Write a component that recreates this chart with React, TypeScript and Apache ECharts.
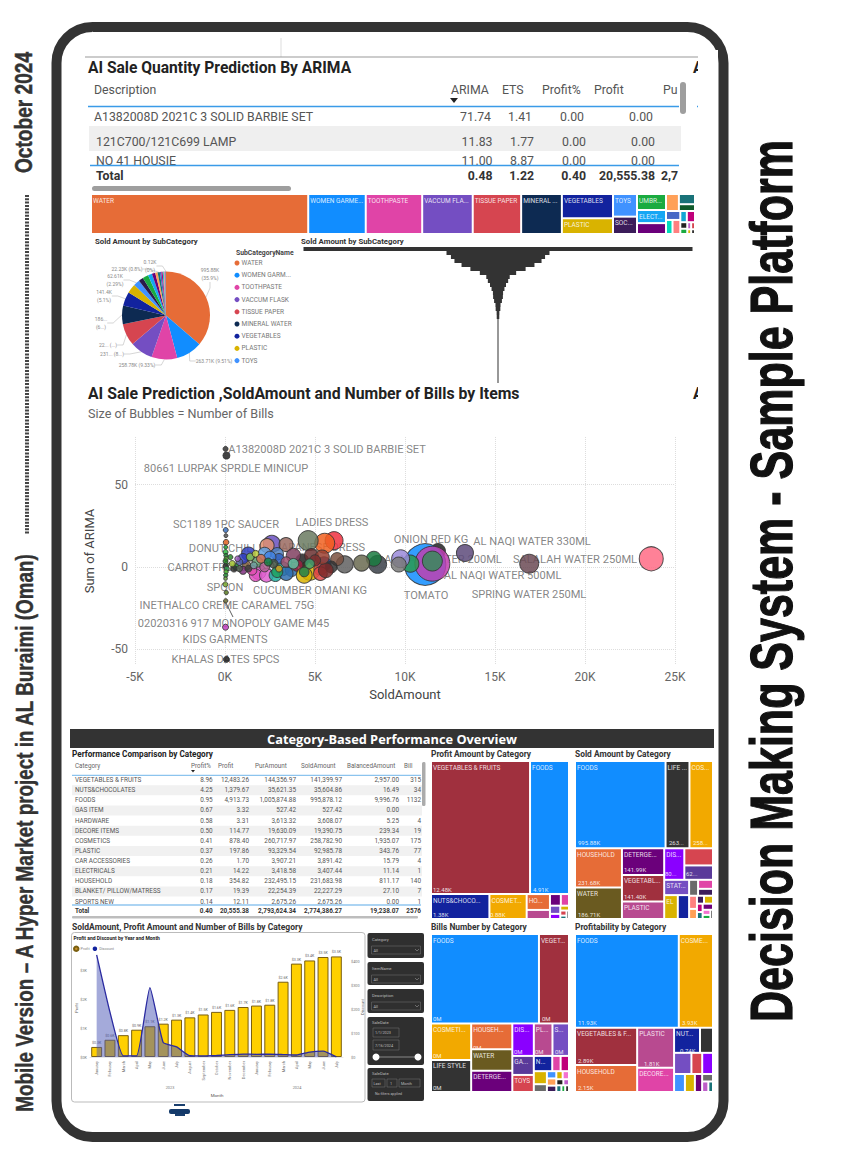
import React, { useEffect, useRef } from "react";
import * as echarts from "echarts";

// ---------- palette names ----------
const BLUE = "#118DFF", NAVY = "#12239E", ORANGE = "#E66C37", DPURPLE = "#6B007B", PINK = "#E044A7",
  VIOLET = "#744EC2", YELLOW = "#D9B300", RED = "#D64550", MAROON = "#A0303E", AMBER = "#F2A900",
  CHAR = "#333333", OLIVE = "#6A5A20", MAGENTA = "#B84A90", BRIGHT = "#8A00FF", GRAY = "#6A6A6A";

// ---------- top table ----------
const arimaHeaders = ["Description", "ARIMA", "ETS", "Profit%", "Profit", "Pu"];
const arimaRows = [
  ["A1382008D 2021C 3 SOLID BARBIE SET", "71.74", "1.41", "0.00", "0.00"],
  ["121C700/121C699 LAMP", "11.83", "1.77", "0.00", "0.00"],
  ["NO 41 HOUSIE", "11.00", "8.87", "0.00", "0.00"],
];
const arimaTotal = ["Total", "0.48", "1.22", "0.40", "20,555.38", "2,7"];

// ---------- sub category ----------
const subMain = [
  leaf("WATER", 995.88, ORANGE), leaf("WOMEN GARME...", 263.71, BLUE), leaf("TOOTHPASTE", 258.78, PINK),
  leaf("VACCUM FLASK", 231.68, VIOLET), leaf("TISSUE PAPER", 222, RED), leaf("MINERAL ...", 186.7, "#0D2A52"),
  group(leaf("VEGETABLES", 141.4, NAVY), leaf("PLASTIC", 92.98, YELLOW)),
];
const subToys = [leaf("TOYS", 62.61, "#4092FF"), leaf("SOCKS", 48, "#3B1C5A")];
const subUmbrella = [leaf("UMBR...", 58, "#1AAB40")];
const subElect = [leaf("ELECT...", 41, "#15A6F4"), leaf("NUTS...", 34, DPURPLE)];
const subRest = [
  group(leaf("", 24, "#FFA058"), leaf("", 18, "#197278"), leaf("", 12, "#0F5A2A")),
  group(leaf("", 14, "#4668C5"), leaf("", 10, "#00DBBC"), leaf("", 12, "#FF8080")),
  group(leaf("", 8, "#15A6D4"), leaf("", 10, "#C0007B"), leaf("", 5, "#222222"), leaf("", 4, "#1AAB40"), leaf("", 3, "#BE5DC9"), leaf("", 3, "#D64550"), leaf("", 2, "#D9B300"), leaf("", 2, "#333333")),
];

const pieNames = ["WATER", "WOMEN GARM...", "TOOTHPASTE", "VACCUM FLASK", "TISSUE PAPER", "MINERAL WATER", "VEGETABLES", "PLASTIC", "TOYS"];
const pieValues = [995.88, 263.71, 258.78, 231.68, 222, 186.7, 141.4, 92.98, 62.61, 48, 58, 41, 34, 24, 22.23, 16, 13, 10, 8, 6, 5, 4, 0.12];
const pieColors = [ORANGE, BLUE, PINK, VIOLET, RED, "#0D2A52", NAVY, YELLOW, "#4092FF", "#2A1C4A", "#1AAB40", "#15A6F4", DPURPLE, "#FFA058", "#197278", "#4668C5", "#C0007B", "#00DBBC", "#FF8080", "#BE5DC9", "#777777", "#4A6A8A", "#AAAAAA"];
const pieLabels = ["995.88K\n(35.9%)", "263.71K (9.51%)", "258.78K (9.33%)", "231... (8...)", "22... (...)", "186...\n(6...)", "141.4K\n(5.1%)", "", "62.61K\n(2.29%)", "", "", "", "", "", "22.23K (0.8%)", "", "", "", "", "", "", "", "0.12K\n(0%)"];
const pieLabelAnchors: ([number, number] | null)[] = [[210, 274], [214, 361], [137, 365], [112, 354], [108, 345], [101, 323], [104, 296], null, [115, 280], null, null, null, null, null, [127, 269], null, null, null, null, null, null, null, [150, 266]];

const funnelValues = [995.88, 263.71, 241, 223, 186.7, 141.4, 92.98, 60, 52, 41, 33, 26, 25, 20, 13, 12, 7, 6.5, 2, 1.8, 1.6, 1.4, 1.2, 1.1, 1, 0.9, 0.8, 0.7, 0.6, 0.5, 0.4, 0.3, 0.2, 0.12];

// ---------- bubbles: sold amount, ARIMA, number of bills ----------
const bubbleValues = [
  [23680, 5, 369], [16900, 2, 231], [13330, 8.5, 185], [11830, 9.7, 144], [11120, 1.5, 1100], [11520, 2, 780], [11520, 3.6, 256], [10300, 2, 185], [9755, 5, 207], [9650, 1.5, 144],
  [8480, 1.6, 207], [8270, 5, 144], [7590, 2.4, 164], [6650, 1.6, 185], [6230, 4.8, 108], [6060, 16, 207], [5540, 14.4, 256], [4620, 16, 256], [2600, 14, 185], [2340, 13, 125],
  [3390, 13.6, 125], [4720, -2, 256], [5500, 2, 125], [4290, 4, 108], [1866, -3, 144], [3190, -1, 125], [3700, -2, 100], [5300, -1, 110], [5900, 0, 90], [4000, 1, 90],
  [1700, -5, 100], [2300, -5, 120], [2800, -5, 100], [3400, -4, 120], [4400, -5, 160], [5300, -4, 120], [5600, -2, 140],
  [1300, 8, 120], [2200, 8, 110], [2900, 8, 100], [3800, 7, 130], [4800, 7, 120], [5400, 6, 130],
  [5000, 4, 80], [3000, 5, 70], [2500, 6, 90], [1800, 3, 70], [2200, 0, 60], [3400, 3, 70], [2900, -3, 80], [1500, -2, 60], [1200, 1, 50], [1000, 5, 70],
  [800, 3, 30], [1400, 6, 40], [1700, 8, 30], [2000, 5, 50], [2700, 2, 50], [3800, 2, 70], [4400, -3, 60], [4700, 2, 60], [3000, -1, 30], [2400, 3, 40],
  [1000, -2, 40], [600, 0, 25], [500, -1, 30], [400, 2, 25], [800, -1, 25], [1300, -1, 30], [1600, 1, 30], [700, 5, 20], [300, 6, 16],
  [40, 22.4, 16], [50, 19, 10], [60, 15, 20], [40, 12, 10], [30, 9, 16], [50, 7, 12], [60, 5, 12], [30, 3.5, 16], [70, 2, 10], [40, 0.5, 20], [100, -1, 16], [60, -3, 12], [40, -5, 12], [30, -7, 8], [20, -10.5, 16], [70, -15.5, 12], [40, -20.5, 12], [30, -36.5, 23], [80, -56, 23], [30, 71.6, 16], [80, 67.6, 31],
];
const bubbleColors = [
  "#FF6B85", "#6B4A55", "#5D4A7A", "#222222", "#118DFF", "#C040B0", "#3A8A5A", "#2A9A50", "#9A8AD8", "#7A7A7A",
  "#3A4048", "#1A7A40", "#6A6A50", "#606060", "#7A5040", "#F03040", "#F06020", "#6A7A60", "#6A50C0", "#E09070",
  "#9A6A60", "#D9B300", "#1A3AA0", "#222222", "#E060D0", "#20B0A0", "#2F6EB0", "#E04848", "#333333", "#9A2040",
  "#E050C0", "#E060D0", "#20B0A0", "#2F6EB0", "#D9B300", "#E04848", "#7A2A2A",
  "#3040C0", "#60A0E0", "#5080C0", "#804060", "#6A3030", "#9A4030",
  "#7A3030", "#3060C0", "#4080E0", "#60A070", "#B06090", "#A05070", "#20A060", "#E050B0", "#806040", "#3040C0",
  "#5060A0", "#80C050", "#C0D040", "#D07050", "#405040", "#60C0A0", "#208050", "#40A070", "#D0A020", "#1A8040",
  "#803080", "#20A040", "#303030", "#A0C030", "#506050", "#404040", "#70A0A0", "#A060C0", "#2A8A2A",
  "#3A70C0", "#555555", "#E06020", "#20A030", "#30C040", "#208030", "#60B030", "#1A8A1A", "#30C040", "#333333", "#30A050", "#50C030", "#208A30", "#70B040", "#7AAA30", "#5A7A20", "#6A6A30", "#C040C0", "#222222", "#333333", "#222222",
];
// label anchors, given in sold amount / ARIMA units
const bubbleLabels: [string, number, number][] = [
  ["A1382008D 2021C 3 SOLID BARBIE SET", 5667, 71.5], ["80661 LURPAK SPRDLE MINICUP", 56, 60], ["SC1189 1PC SAUCER", 56, 25.5], ["LADIES DRESS", 5944, 26.7],
  ["DONUT CHILLI", 0, 11], ["JAPANESE DRESS", 5278, 12], ["CARROT FROZEN 400G", 0, 0], ["SPOON", 0, -12.7], ["CUCUMBER OMANI KG", 4722, -14.2],
  ["INETHALCO CREME CARAMEL 75G", 111, -23.3], ["02020316 917 MONOPOLY GAME M45", 472, -34.2], ["KIDS GARMENTS", 0, -44], ["KHALAS DATES 5PCS", 28, -55.8],
  ["ONION RED KG", 11444, 16.4], ["AL NAQI WATER 330ML", 17056, 15.5], ["AL NAQI WATER 200ML", 12111, 4.6], ["SALALAH WATER 250ML", 19444, 4.6],
  ["AL NAQI WATER 500ML", 15422, -5], ["TOMATO", 11167, -17], ["SPRING WATER 250ML", 16889, -16.7],
];

// ---------- category table ----------
const catHeaders = ["Category", "Profit%", "Profit", "PurAmount", "SoldAmount", "BalancedAmount", "Bill"];
const catRows = [
  ["VEGETABLES & FRUITS", "8.96", "12,483.26", "144,356.97", "141,399.97", "2,957.00", "315"],
  ["NUTS&CHOCOLATES", "4.25", "1,379.67", "35,621.35", "35,604.86", "16.49", "34"],
  ["FOODS", "0.95", "4,913.73", "1,005,874.88", "995,878.12", "9,996.76", "1132"],
  ["GAS ITEM", "0.67", "3.32", "527.42", "527.42", "0.00", ""],
  ["HARDWARE", "0.58", "3.31", "3,613.32", "3,608.07", "5.25", "4"],
  ["DECORE ITEMS", "0.50", "114.77", "19,630.09", "19,390.75", "239.34", "19"],
  ["COSMETICS", "0.41", "878.40", "260,717.97", "258,782.90", "1,935.07", "175"],
  ["PLASTIC", "0.37", "197.86", "93,329.54", "92,985.78", "343.76", "77"],
  ["CAR ACCESSORIES", "0.26", "1.70", "3,907.21", "3,891.42", "15.79", "4"],
  ["ELECTRICALS", "0.21", "14.22", "3,418.58", "3,407.44", "11.14", "1"],
  ["HOUSEHOLD", "0.18", "354.82", "232,495.15", "231,683.98", "811.17", "140"],
  ["BLANKET/ PILLOW/MATRESS", "0.17", "19.39", "22,254.39", "22,227.29", "27.10", "7"],
  ["SPORTS NEW", "0.14", "12.11", "2,675.26", "2,675.26", "0.00", "1"],
];
const catTotal = ["Total", "0.40", "20,555.38", "2,793,624.34", "2,774,386.27", "19,238.07", "2576"];

// ---------- category treemaps (values in K, or bills) ----------
const profitTop = [leaf("VEGETABLES & FRUITS", 12.48, MAROON), leaf("FOODS", 4.91, BLUE)];
const profitBottom = [
  leaf("NUTS&CHOCO...", 1.38, NAVY), leaf("COSMET...", 0.88, AMBER),
  group(leaf("HO...", 0.35, ORANGE), leaf("", 0.2, MAGENTA)),
  group(leaf("", 0.12, DPURPLE), leaf("", 0.09, PINK), leaf("", 0.08, VIOLET), leaf("", 0.05, BRIGHT), leaf("", 0.04, YELLOW), leaf("", 0.03, RED), leaf("", 0.02, "#197278"), leaf("", 0.02, CHAR)),
];
const soldTop = [leaf("FOODS", 995.88, BLUE), leaf("LIFE ...", 263, CHAR), leaf("COS...", 258.78, AMBER)];
const soldBottom = [
  group(leaf("HOUSEHOLD", 231.68, ORANGE), leaf("WATER", 186.71, OLIVE)),
  group(leaf("DETERGE...", 141.99, DPURPLE), leaf("VEGETABL...", 141.4, MAROON), leaf("PLASTIC", 92.98, MAGENTA)),
  group(
    group(leaf("DIS...", 80, BRIGHT), leaf("", 62, RED), leaf("", 52, "#5A3A9A")),
    group(
      group(leaf("STAT...", 48, VIOLET), leaf("ELEC...", 41, YELLOW), leaf("", 34, NAVY)),
      group(group(leaf("", 18, GRAY), leaf("", 17, PINK), leaf("", 13, "#3B1C5A")),
        group(leaf("", 13, "#FF8080"), leaf("", 10, "#FFA058"), leaf("", 7, "#3B1C5A"), leaf("", 9, YELLOW), leaf("", 6, "#C0007B"), leaf("", 5, "#197278"), leaf("", 8, DPURPLE), leaf("", 5, "#F472D0"), leaf("", 4, "#1AAB40"), leaf("", 3, "#222222")))
    )
  ),
];
const billsTop = [leaf("FOODS", 1132, BLUE), leaf("VEGET...", 315, MAROON)];
const billsBottom = [
  group(leaf("COSMETI...", 172, AMBER), leaf("LIFE STYLE", 151, CHAR)),
  group(leaf("HOUSEH...", 125, ORANGE), leaf("WATER", 103, OLIVE), leaf("DETERGE...", 103, DPURPLE)),
  group(
    group(leaf("DIS...", 82, BRIGHT), leaf("PL...", 71, MAGENTA), leaf("S...", 63, VIOLET)),
    group(
      group(leaf("GA...", 48, "#5A3A9A"), leaf("TOYS", 43, RED)),
      group(group(leaf("N...", 33, NAVY), leaf("", 15, PINK), leaf("", 15, "#C0007B")),
        group(leaf("", 20, YELLOW), leaf("", 12, GRAY), leaf("", 8, "#4092FF"), leaf("", 8, "#FFA058"), leaf("", 7, "#3B1C5A"), leaf("", 6, YELLOW), leaf("", 6, "#F472D0"), leaf("", 5, "#222222"), leaf("", 4, "#BE5DC9"), leaf("", 4, "#197278"), leaf("", 3, "#1AAB40"), leaf("", 3, "#333333")))
    )
  ),
];
const profitabilityTop = [leaf("FOODS", 11.93, BLUE), leaf("COSME...", 3.93, AMBER)];
const profitabilityBottom = [
  group(leaf("VEGETABLES & FR...", 2.85, MAROON), leaf("HOUSEHOLD", 2.05, ORANGE)),
  group(leaf("PLASTIC", 1.81, MAGENTA), leaf("DECORE...", 1.1, PINK)),
  group(
    group(leaf("NUT...", 0.8, NAVY), leaf("", 0.4, CHAR)),
    group(leaf("", 0.45, VIOLET), leaf("", 0.28, RED), leaf("", 0.28, BRIGHT)),
    group(group(leaf("", 0.24, "#4092FF"), leaf("", 0.22, YELLOW)), leaf("", 0.16, DPURPLE), group(leaf("", 0.1, GRAY), leaf("", 0.08, "#BE5DC9"), leaf("", 0.06, "#197278")))
  ),
];
// value captions under the treemap names
const valueCaptions: [number, number, string][] = [
  [433, 889, "12.48K"], [533, 889, "4.91K"], [433, 914, "1.38K"], [490, 914, "0.88K"],
  [578, 842, "995.88K"], [669, 842, "263..."], [693, 842, "258..."], [578, 882, "231.68K"], [578, 914, "186.71K"], [624, 869, "141.99K"], [624, 896, "141.40K"], [665, 873, "80..."], [686, 873, "62..."],
  [433, 1018, "0M"], [542, 1018, "0M"], [433, 1055, "0M"], [473, 1047, "0M"], [514, 1051, "0M"], [535, 1051, "0M"], [555, 1051, "0M"], [433, 1087, "0M"],
  [578, 1022, "11.93K"], [682, 1022, "3.93K"], [578, 1060, "2.89K"], [578, 1087, "2.15K"], [644, 1063, "1.81K"], [680, 1050, "0.74K"],
];

// ---------- profit & discount ----------
const months = ["January", "February", "March", "April", "May", "June", "July", "August", "September", "October", "November", "December", "January", "February", "March", "April", "May", "June", "July"];
const profitK = [0.35, 0.6, 0.76, 0.95, 1.07, 1.16, 1.3, 1.38, 1.48, 1.57, 1.64, 1.74, 1.79, 1.82, 2.62, 3.25, 3.36, 3.48, 3.5];
const discount = [425.79, 187.17, 5, 5, 289.45, 60.12, 42.2, 5.12, 4.35, 6.2, 9.65, 12.14, 11.3, 11.71, 10.13, 8.28, 20.57, 24.24, 0.5];
const leftTicks = [0, 1, 2, 3];
const rightTicks = [0, 100, 200, 300, 400];

function leaf(name: string, value: number, color: string) {
  return { name, value, itemStyle: { color, borderColor: "#ffffff", borderWidth: 1 } };
}
function group(...children: any[]) {
  return { name: "", children };
}
function total(nodes: any[]): number {
  return nodes.reduce((s, n) => s + (n.children ? total(n.children) : n.value), 0);
}

function treemapSeries(data: any[], left: number, top: number, width: number, height: number, squareRatio = 1) {
  return {
    type: "treemap", data, left, top, width, height, squareRatio, sort: false, roam: false, nodeClick: false,
    silent: true, visibleMin: 0, breadcrumb: { show: false },
    itemStyle: { borderWidth: 0, gapWidth: 0 },
    label: { show: true, position: "insideTopLeft", fontSize: 6.5, fontFamily: "Roboto", color: "rgba(255,255,255,0.85)", padding: [2, 0, 0, 1] },
  };
}
function panel(topNodes: any[], bottomNodes: any[], x: number, y: number, w: number, h: number, topRatio = 1) {
  const a = total(topNodes), b = total(bottomNodes);
  const th = (h * a) / (a + b);
  return [treemapSeries(topNodes, x, y, w, th, topRatio), treemapSeries(bottomNodes, x, y + th, w, h - th, 1)];
}

// horizontal squeeze that makes a text occupy a given length
function fit(text: string, font: string, target: number) {
  const c = document.createElement("canvas").getContext("2d")!;
  c.font = font;
  return target / c.measureText(text).width;
}

function T(x: number, y: number, text: string, o: any = {}) {
  return {
    type: "text", x, y, z: o.z ?? 5, rotation: o.rot ?? 0, scaleX: o.sx ?? 1, scaleY: o.sy ?? 1,
    style: {
      text, fontFamily: o.f ?? "Roboto", fontSize: o.s ?? 7, fontWeight: o.w ?? "normal", fill: o.c ?? "#555555",
      textAlign: o.a ?? "left", textVerticalAlign: "middle", opacity: o.op ?? 1, stroke: o.stroke, lineWidth: o.slw ?? 0,
    },
  };
}
function R(x: number, y: number, width: number, height: number, fill: string, o: any = {}) {
  return { type: "rect", z: o.z ?? 1, shape: { x, y, width, height, r: o.r ?? 0 }, style: { fill, stroke: o.stroke, lineWidth: o.lw ?? 0 } };
}
function Ln(x1: number, y1: number, x2: number, y2: number, stroke: string, lw: number, o: any = {}) {
  return { type: "line", z: o.z ?? 5, shape: { x1, y1, x2, y2 }, style: { stroke, lineWidth: lw, lineDash: o.dash } };
}

function condensed(cx: number, cy: number, text: string, size: number, length: number, color: string, strokeW: number) {
  const font = `bold ${size}px "Liberation Sans"`;
  return T(cx, cy, text, { f: "Liberation Sans", w: "bold", s: size, c: color, a: "center", rot: Math.PI / 2, sx: fit(text, font, length), stroke: color, slw: strokeW, z: 7 });
}

function buildGraphics() {
  const g: any[] = [];
  // frame + side texts
  g.push(R(56.5, 27, 667, 1110, "#ffffff", { z: 0, r: 36, stroke: "#333333", lw: 10 }));
  g.push(condensed(24, 112.5, "October 2024", 24, 121, "#333333", 0.5));
  g.push(Ln(27, 195, 27, 535, "#444444", 4, { dash: [2, 1.3] }));
  g.push(condensed(25, 833, "Mobile Version – A Hyper Market project in AL Buraimi (Oman)", 23, 560, "#333333", 0.4));
  g.push(condensed(771, 581, "Decision Making System - Sample Platform", 60, 882, "#111111", 1.2));

  // top table
  g.push(Ln(281, 38, 281, 57, "#dddddd", 1));
  g.push(Ln(85, 57, 700, 57, "#999999", 1));
  g.push(T(88, 68, "AI Sale Quantity Prediction By ARIMA", { s: 15.6, w: "bold", c: "#222222" }));
  g.push(T(693, 68, "A", { s: 15.6, w: "bold", c: "#222222", z: 2 }));
  const hx = [94, 451, 502, 542, 594, 663];
  arimaHeaders.forEach((h, i) => g.push(T(hx[i], 90, h, { s: 12.3, c: "#555555", z: 2 })));
  g.push({ type: "polygon", z: 5, shape: { points: [[450, 98], [458, 98], [454, 103]] }, style: { fill: "#222222" } });
  g.push(Ln(88, 106.5, 679, 106.5, "#3A9BE8", 1.5));
  g.push(Ln(697, 106.5, 700, 106.5, "#3A9BE8", 1.5));
  g.push(R(89, 126, 592, 25, "#EFEFEF"));
  const rowY = [117, 142, 161];
  const colR = [[491, 532, 584, 653], [492.5, 534, 586, 655], [492.5, 534, 586, 655]];
  arimaRows.forEach((r, i) => {
    g.push(T(i === 0 ? 94 : 96, rowY[i], r[0], { s: 12.3, c: "#555555", z: 2 }));
    r.slice(1).forEach((v, j) => g.push(T(colR[i][j], rowY[i], v, { s: 12.3, c: "#555555", a: "right", z: 2 })));
  });
  g.push(R(85, 165.5, 600, 22, "#ffffff", { z: 3 }));
  g.push(Ln(90, 165.5, 679, 165.5, "#3A9BE8", 1.5));
  g.push(T(96, 176, arimaTotal[0], { s: 12.3, w: "bold", c: "#333333" }));
  [492.5, 534, 586, 655].forEach((x, i) => g.push(T(x, 176, arimaTotal[i + 1], { s: 12.3, w: "bold", c: "#333333", a: "right" })));
  g.push(T(661, 176, arimaTotal[5], { s: 12.3, w: "bold", c: "#333333", z: 5 }));
  g.push(R(679, 166, 6, 20, "#ffffff", { z: 6 }));
  g.push(R(680, 82, 6, 32, "#9E9E9E", { r: 3, z: 7 }));
  g.push(R(92, 186, 199, 5, "#9E9E9E", { r: 2.5, z: 5 }));

  // pie + funnel headers
  g.push(T(95, 241, "Sold Amount by SubCategory", { s: 7.8, w: "bold", c: "#333333" }));
  g.push(T(301, 241, "Sold Amount by SubCategory", { s: 7.8, w: "bold", c: "#333333" }));
  g.push(T(236, 253, "SubCategoryName", { s: 6.8, w: "bold", c: "#444444" }));

  // bubble headers
  g.push(T(88, 393, "AI Sale Prediction ,SoldAmount and Number of Bills by Items", { s: 15.8, w: "bold", c: "#222222" }));
  g.push(T(693, 393, "A", { s: 15.8, w: "bold", c: "#222222" }));
  g.push(T(88, 413, "Size of Bubbles = Number of Bills", { s: 12.6, c: "#666666" }));
  g.push(R(698, 50, 20, 400, "#ffffff", { z: 6 }));
  g.push(Ln(226, 603, 233, 617, "#333333", 0.8, { z: 5 }));

  // band
  g.push(R(70, 729, 644, 19, "#333333"));
  g.push(T(392, 739, "Category-Based Performance Overview", { f: "Open Sans", s: 12.8, w: "bold", c: "#ffffff", a: "center" }));

  // category table
  g.push(T(72, 754, "Performance Comparison by Category", { s: 8.2, w: "bold", c: "#222222" }));
  const catRight = [212.7, 249, 296, 342, 399, 421];
  const catHeadX = [75, 191, 218, 255, 301, 347, 404];
  catHeaders.forEach((h, i) => g.push(T(catHeadX[i], 766, h, { s: 6.3, c: "#666666", z: 2 })));
  g.push({ type: "polygon", z: 5, shape: { points: [[191, 770], [195, 770], [193, 772.5]] }, style: { fill: "#222222" } });
  g.push(Ln(72, 775.3, 421, 775.3, "#8CC4EE", 1.2));
  catRows.forEach((r, i) => {
    const y = 780 + 10.13 * i;
    if (i % 2 === 1) g.push(R(72, y - 5, 350, 10.1, "#F1F1F1"));
    g.push(T(75, y, r[0], { s: 6.4, c: "#555555", z: 2 }));
    r.slice(1).forEach((v, j) => g.push(T(catRight[j], y, v, { s: 6.4, c: "#555555", a: "right", z: 2 })));
  });
  g.push(R(70, 905, 356, 12, "#ffffff", { z: 3 }));
  g.push(Ln(72, 905, 421, 905, "#5AAAE8", 1.2));
  g.push(T(75, 910.5, catTotal[0], { s: 6.4, w: "bold", c: "#333333" }));
  catRight.forEach((x, j) => g.push(T(x, 910.5, catTotal[j + 1], { s: 6.4, w: "bold", c: "#333333", a: "right" })));
  g.push(R(422, 762, 3.5, 44, "#ABABAB", { r: 1.5, z: 5 }));
  g.push(R(72, 916, 346, 2.5, "#BDBDBD", { r: 1, z: 5 }));

  // treemap titles
  g.push(T(431, 754, "Profit Amount by Category", { s: 8.4, w: "bold", c: "#333333" }));
  g.push(T(575, 754, "Sold Amount by Category", { s: 8.4, w: "bold", c: "#333333" }));
  g.push(T(431, 927, "Bills Number by Category", { s: 8.4, w: "bold", c: "#333333" }));
  g.push(T(575, 927, "Profitability by Category", { s: 8.4, w: "bold", c: "#333333" }));
  valueCaptions.forEach(([x, y, t]) => g.push(T(x, y, t, { s: 6, c: "rgba(255,255,255,0.85)", z: 8 })));

  // profit & discount card
  g.push(T(72, 927, "SoldAmount, Profit Amount and Number of Bills by Category", { s: 8.5, w: "bold", c: "#333333", z: 1 }));
  g.push(R(71.5, 932.5, 293.5, 169.5, "#ffffff", { r: 3, stroke: "#BBBBBB", lw: 1, z: 1 }));
  g.push(T(73.5, 938, "Profit and Discount by Year and Month", { s: 5, w: "bold", c: "#222222" }));
  g.push(T(170, 1087, "2023", { s: 3.8, c: "#777777", a: "center" }));
  g.push(T(297, 1087, "2024", { s: 3.8, c: "#777777", a: "center" }));
  g.push(T(217, 1095, "Month", { s: 4.4, c: "#555555", a: "center" }));
  g.push(T(76, 1008, "Profit", { s: 4, c: "#555555", a: "center", rot: Math.PI / 2 }));
  g.push(T(362, 1007, "Discount", { s: 4, c: "#555555", a: "center", rot: Math.PI / 2 }));

  // slicers
  const slicers: [number, number, string][] = [[933, 25, "Category"], [962, 23, "ItemName"], [989, 24, "Description"]];
  slicers.forEach(([y, h, label]) => {
    g.push(R(367.5, y, 56.5, h, "#2F2F2F", { r: 2, z: 2 }));
    g.push(T(372, y + 6.5, label, { s: 4.2, c: "#BBBBBB" }));
    g.push(R(371.5, y + 13, 49, 8, "none", { stroke: "#777777", lw: 0.5, z: 5 }));
    g.push(T(373.5, y + 17, "All", { s: 4, c: "#BBBBBB" }));
    g.push({ type: "polyline", z: 5, shape: { points: [[415, y + 16], [417, y + 18], [419, y + 16]] }, style: { stroke: "#AAAAAA", lineWidth: 0.5, fill: "none" } });
  });
  g.push(R(367.5, 1017, 56.5, 48, "#2F2F2F", { r: 2, z: 2 }));
  g.push(T(372, 1022, "SaleDate", { s: 4.2, c: "#BBBBBB" }));
  g.push(R(373, 1028, 26, 9, "none", { stroke: "#777777", lw: 0.5, z: 5 }));
  g.push(T(375, 1032.5, "1/1/2023", { s: 3.8, c: "#BBBBBB" }));
  g.push(R(373, 1040, 26, 10, "none", { stroke: "#777777", lw: 0.5, z: 5 }));
  g.push(T(375, 1045, "7/16/2024", { s: 3.8, c: "#BBBBBB" }));
  g.push(Ln(376, 1057, 418, 1057, "#888888", 1));
  g.push({ type: "circle", z: 6, shape: { cx: 376, cy: 1057, r: 3.5 }, style: { fill: "#ffffff" } });
  g.push({ type: "circle", z: 6, shape: { cx: 418, cy: 1057, r: 3.5 }, style: { fill: "#ffffff" } });
  g.push(R(367.5, 1068, 56.5, 33, "#2F2F2F", { r: 2, z: 2 }));
  g.push(T(372, 1073, "SaleDate", { s: 4.2, c: "#BBBBBB" }));
  g.push(R(372, 1079, 13, 8, "none", { stroke: "#777777", lw: 0.5, z: 5 }));
  g.push(T(373.5, 1083, "Last", { s: 3.8, c: "#BBBBBB" }));
  g.push(R(387, 1079, 10, 8, "none", { stroke: "#777777", lw: 0.5, z: 5 }));
  g.push(T(390, 1083, "1", { s: 3.8, c: "#BBBBBB" }));
  g.push(R(399, 1079, 21, 8, "none", { stroke: "#777777", lw: 0.5, z: 5 }));
  g.push(T(401, 1083, "Month", { s: 3.8, c: "#BBBBBB" }));
  g.push(T(375, 1094, "No filters applied", { s: 3.6, c: "#BBBBBB" }));

  // small logo under the card
  g.push(R(174, 1104, 11, 2, "#1A3F6E"));
  g.push(R(169, 1109, 21, 5, "#143A6A", { r: 2 }));
  g.push(R(175, 1114, 10, 2, "#1A3F6E"));
  return g;
}

const symbolFromBills = (v: number[]) => 1.25 * Math.sqrt(v[2]);

function buildOption() {
  return {
    animation: false,
    backgroundColor: "#ffffff",
    textStyle: { fontFamily: "Roboto" },
    graphic: { elements: buildGraphics() },
    legend: [
      {
        orient: "vertical", left: 229.5, top: 254.5, icon: "circle", itemWidth: 5, itemHeight: 5, itemGap: 5.2,
        data: pieNames, textStyle: { fontSize: 6.5, color: "#777777", padding: [0, 0, 0, -3] }, selectedMode: false,
      },
      {
        orient: "horizontal", left: 68, top: 940.5, icon: "circle", itemWidth: 4.5, itemHeight: 4.5, itemGap: 3,
        data: [{ name: "Profit", itemStyle: { color: "#C8902A" } }, { name: "Discount", itemStyle: { color: NAVY } }],
        textStyle: { fontSize: 3.8, color: "#888888", padding: [0, 0, 0, -3] }, selectedMode: false,
      },
    ],
    grid: [
      { left: 135, top: 437, width: 540, height: 228 },
      { left: 303.5, top: 247, width: 389, height: 136 },
      { left: 90, top: 955, width: 253, height: 102 },
    ],
    xAxis: [
      {
        gridIndex: 0, type: "value", min: -5000, max: 25000, interval: 5000,
        name: "SoldAmount", nameLocation: "middle", nameGap: 23, nameTextStyle: { fontSize: 13, color: "#444444" },
        axisLine: { show: false }, axisTick: { show: false },
        axisLabel: { fontSize: 12, color: "#666666", margin: 6, formatter: (v: number) => `${v / 1000}K` },
        splitLine: { show: true, lineStyle: { type: "dotted", color: "#DDDDDD" } },
      },
      { gridIndex: 1, type: "value", min: -497.94, max: 497.94, show: false },
      {
        gridIndex: 2, type: "category", data: months, z: 3,
        axisLine: { lineStyle: { color: "#CCCCCC", width: 0.5 } }, axisTick: { show: false },
        axisLabel: { interval: 0, rotate: 90, fontSize: 4, color: "#777777", margin: 4 },
      },
    ],
    yAxis: [
      {
        gridIndex: 0, type: "value", min: -59.4, max: 78.8,
        name: "Sum of ARIMA", nameLocation: "middle", nameGap: 39, nameTextStyle: { fontSize: 13, color: "#444444" },
        axisLine: { show: false }, axisTick: { show: false, customValues: [-50, 0, 50] },
        axisLabel: { fontSize: 12, color: "#666666", margin: 7, customValues: [-50, 0, 50] },
        splitLine: { show: true, lineStyle: { type: "dotted", color: "#DDDDDD" } },
      },
      { gridIndex: 1, type: "category", inverse: true, show: false, data: funnelValues.map((_, i) => String(i + 1)) },
      {
        gridIndex: 2, type: "value", min: 0, max: 3.55, splitLine: { show: false }, z: 3,
        axisLine: { show: false }, axisTick: { show: false, customValues: leftTicks },
        axisLabel: { fontSize: 3.8, color: "#777777", margin: 3, customValues: leftTicks, formatter: (v: number) => `$${v}K` },
      },
      {
        gridIndex: 2, type: "value", min: 0, max: 425, position: "right", splitLine: { show: false }, z: 3,
        axisLine: { show: false }, axisTick: { show: false, customValues: rightTicks },
        axisLabel: { fontSize: 3.8, color: "#777777", margin: 8, customValues: rightTicks, formatter: (v: number) => `$${v}` },
      },
    ],
    series: [
      treemapSeries(subMain, 91, 194, 522, 40, 1.618),
      treemapSeries(subToys, 613, 194, 24, 40, 1),
      treemapSeries(subUmbrella, 637, 194, 29, 16, 1),
      treemapSeries(subElect, 637, 210, 29, 24, 1.618),
      treemapSeries(subRest, 666, 194, 29, 40, 1),
      ...panel(profitTop, profitBottom, 431, 761, 138, 158),
      ...panel(soldTop, soldBottom, 575, 761, 138, 158, 2),
      ...panel(billsTop, billsBottom, 431, 934, 138, 158),
      ...panel(profitabilityTop, profitabilityBottom, 575, 934, 138, 158),
      {
        type: "pie", center: [166, 315.5], radius: 44, startAngle: 90, silent: true,
        data: pieValues.map((value, i) => ({
          name: pieNames[i] ?? `Other ${i}`, value, itemStyle: { color: pieColors[i] },
          label: { show: pieLabels[i] !== "" }, labelLine: { show: pieLabels[i] !== "" },
        })),
        label: { formatter: (p: any) => pieLabels[p.dataIndex], fontSize: 5, color: "#888888", lineHeight: 8 },
        labelLine: { length: 5, length2: 6, lineStyle: { color: "#BBBBBB", width: 0.6 } },
        labelLayout: (p: any) => {
          const a = pieLabelAnchors[p.dataIndex];
          return a ? { x: a[0], y: a[1], align: "center", verticalAlign: "middle" } : {};
        },
      },
      {
        type: "bar", xAxisIndex: 1, yAxisIndex: 1, stack: "f", barWidth: "100%", silent: true, barMinHeight: 0.5,
        data: funnelValues.map((v) => v / 2), itemStyle: { color: CHAR },
      },
      {
        type: "bar", xAxisIndex: 1, yAxisIndex: 1, stack: "f", barWidth: "100%", silent: true, barMinHeight: 0.5,
        data: funnelValues.map((v) => -v / 2), itemStyle: { color: CHAR },
      },
      {
        type: "scatter", xAxisIndex: 0, yAxisIndex: 0, z: 1, symbolSize: 0, silent: true,
        data: bubbleLabels.map(([name, x, y]) => ({ name, value: [x, y] })),
        label: { show: true, position: "inside", formatter: (p: any) => p.name, fontSize: 11.1, fontFamily: "Roboto", color: "#666666" },
      },
      {
        type: "scatter", xAxisIndex: 0, yAxisIndex: 0, z: 3, silent: true, symbolSize: symbolFromBills,
        data: bubbleValues.map((value, i) => ({
          value, itemStyle: { color: bubbleColors[i], opacity: 0.85, borderColor: "#333333", borderWidth: 1 },
        })),
      },
      {
        name: "Profit", type: "bar", xAxisIndex: 2, yAxisIndex: 2, barCategoryGap: "18%", data: profitK, silent: true,
        itemStyle: { color: "#FFD000", borderColor: "#7A5F10", borderWidth: 1 },
        label: { show: true, position: "top", distance: 2, fontSize: 3.6, color: "#666666", formatter: (p: any) => `$${p.value.toFixed(1)}K` },
      },
      {
        name: "Discount", type: "line", xAxisIndex: 2, yAxisIndex: 3, data: discount, silent: true, symbol: "none", smooth: 0.15, z: 5,
        lineStyle: { color: "#2A2AA0", width: 1.3 }, areaStyle: { color: "#4A55B5", opacity: 0.5 },
        label: { show: true, position: "top", distance: 1, fontSize: 3.6, color: "#555555", formatter: (p: any) => `$${p.value.toFixed(2)}` },
      },
    ],
  };
}

export default function App() {
  const ref = useRef<HTMLDivElement>(null);
  useEffect(() => {
    document.body.style.margin = "0";
    const chart = echarts.init(ref.current!, undefined, { renderer: "svg" });
    chart.setOption(buildOption() as any);
    return () => chart.dispose();
  }, []);
  return <div ref={ref} style={{ width: 862, height: 1165 }} />;
}
